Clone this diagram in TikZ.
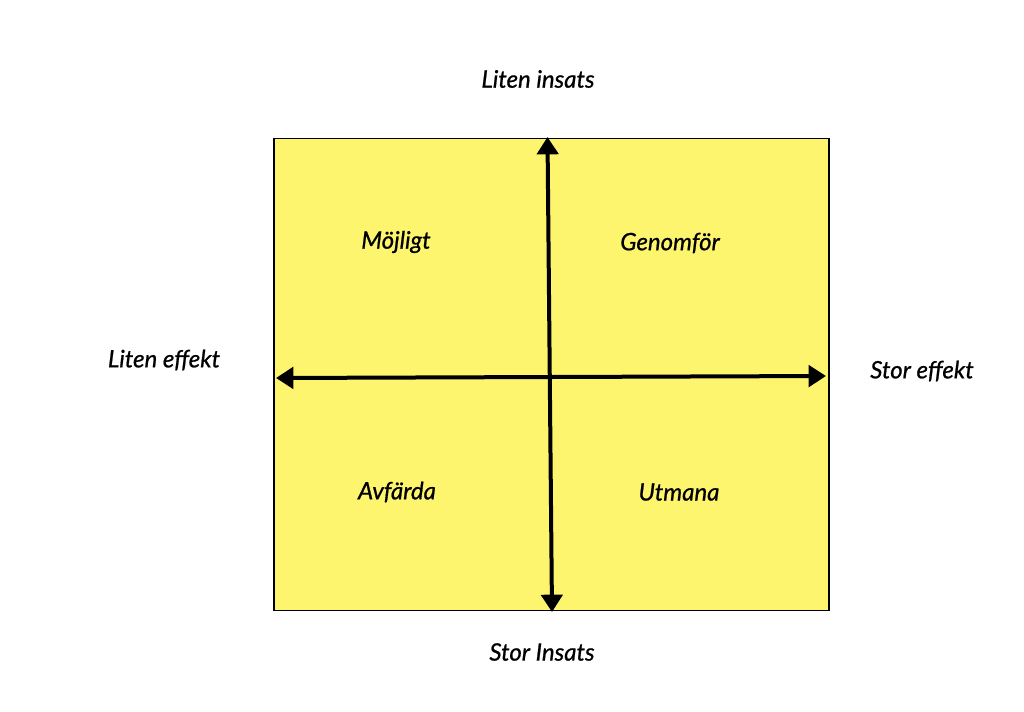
\documentclass[tikz,border=0pt]{standalone}
\usepackage{fontspec}
\setmainfont{Lato}[ItalicFeatures={FakeBold=0.8}]
\usetikzlibrary{arrows.meta}
\definecolor{quad}{HTML}{FEF56E}
\tikzset{
  axislabel/.style={font=\itshape\fontsize{18}{20}\selectfont,text=black,inner sep=0pt},
  axis/.style={line width=3pt,{Triangle[length=13pt,width=16pt]}-{Triangle[length=13pt,width=16pt]}}
}
\begin{document}
\begin{tikzpicture}[x=0.75pt,y=-0.75pt]
\useasboundingbox (0,0) rectangle (1024,711);
\fill[white] (0,0) rectangle (1024,711);
\node[draw=black,line width=1.2pt,fill=quad,inner sep=0pt,
  minimum width=416.25pt,minimum height=354pt,anchor=north west] (field) at (273,137.5) {};
\coordinate (top) at (547.5,137);
\coordinate (bottom) at (552,612);
\coordinate (left) at (276,378);
\coordinate (right) at (826,376);
\draw[axis] (top) -- (bottom);
\draw[axis] (left) -- (right);
\node[axislabel] (litinsats) at (538,79) {Liten insats};
\node[axislabel] (storinsats) at (542,652) {Stor Insats};
\node[axislabel] (liteffekt) at (164,360) {Liten effekt};
\node[axislabel] (storeffekt) at (922,371) {Stor effekt};
\node[axislabel] (mojligt) at (396,242) {Möjligt};
\node[axislabel] (genomfor) at (670,243) {Genomför};
\node[axislabel] (avfarda) at (397,492) {Avfärda};
\node[axislabel] (utmana) at (679,492) {Utmana};
\end{tikzpicture}
\end{document}
